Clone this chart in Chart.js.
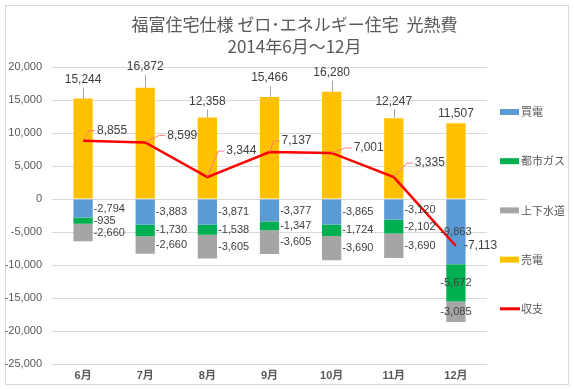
<!DOCTYPE html>
<html lang="ja">
<head>
<meta charset="utf-8">
<title>光熱費</title>
<script src="https://cdn.jsdelivr.net/npm/chart.js@4.4.1/dist/chart.umd.min.js"></script>
<style>
  html, body { margin: 0; padding: 0; background: #fff; }
</style>
</head>
<body>
<canvas id="energyChart" width="574" height="389"></canvas>
<script>
// data
const months = ['6月', '7月', '8月', '9月', '10月', '11月', '12月'];
const buyPower = [-2794, -3883, -3871, -3377, -3865, -3120, -9863];
const cityGas = [-935, -1730, -1538, -1347, -1724, -2102, -5672];
const water = [-2660, -2660, -3605, -3605, -3690, -3690, -3085];
const sellPower = [15244, 16872, 12358, 15466, 16280, 12247, 11507];
const balance = [8855, 8599, 3344, 7137, 7001, 3335, -7113];
const yMin = -25000, yMax = 20000, yStep = 5000;

const numFont = "'Liberation Sans', 'Noto Sans CJK JP', sans-serif";
const jpFont = "'Noto Sans CJK JP', 'Noto Sans', sans-serif";
const fmt = v => v.toLocaleString('en-US');

// white background + thin outer frame
const frame = {
  id: 'frame',
  beforeDraw(chart) {
    const ctx = chart.ctx;
    ctx.save();
    ctx.fillStyle = '#fff';
    ctx.fillRect(0, 0, chart.width, chart.height);
    ctx.strokeStyle = '#d9d9d9';
    ctx.lineWidth = 1;
    ctx.strokeRect(5.5, 5.5, 563, 379);
    ctx.restore();
  }
};

// value labels for bars and line
const valueLabels = {
  id: 'valueLabels',
  afterDatasetsDraw(chart, args, opts) {
    const ctx = chart.ctx;
    ctx.save();
    ctx.textBaseline = 'middle';
    ctx.fillStyle = '#404040';

    // cost segments (negative side)
    ctx.font = '11px ' + numFont;
    for (let d = 0; d < 3; d++) {
      chart.getDatasetMeta(d).data.forEach((bar, i) => {
        const p = bar.getProps(['x', 'y', 'base', 'width'], true);
        const text = fmt(chart.data.datasets[d].data[i]);
        const cy = (p.y + p.base) / 2;
        if (opts.centerCost[i]) {
          ctx.textAlign = 'center';
          ctx.fillText(text, p.x, cy);
        } else {
          ctx.textAlign = 'left';
          ctx.fillText(text, p.x + p.width / 2 + 1, cy);
        }
      });
    }

    // 売電 above the bars, with a leader line
    ctx.font = '12px ' + numFont;
    ctx.textAlign = 'center';
    chart.getDatasetMeta(3).data.forEach((bar, i) => {
      const gap = opts.sellGap[i];
      const ly = bar.y - gap;
      if (gap > 12) {
        const lx = Math.round(bar.x) + 0.5;
        ctx.strokeStyle = '#a6a6a6';
        ctx.lineWidth = 1;
        ctx.beginPath();
        ctx.moveTo(lx, ly + 8);
        ctx.lineTo(lx, bar.y);
        ctx.stroke();
      }
      ctx.fillText(fmt(sellPower[i]), bar.x, ly);
    });

    // 収支 labels up and right of the points
    ctx.textAlign = 'left';
    chart.getDatasetMeta(4).data.forEach((pt, i) => {
      const [dx, dy] = opts.balanceOffset[i];
      const lx = pt.x + dx, ly = pt.y + dy;
      if (dy !== 0) {
        ctx.strokeStyle = '#ff7c80';
        ctx.lineWidth = 1;
        ctx.beginPath();
        ctx.moveTo(pt.x, pt.y);
        ctx.lineTo(lx - 8, ly);
        ctx.lineTo(lx - 2, ly);
        ctx.stroke();
      }
      ctx.fillText(fmt(balance[i]), lx, ly);
    });
    ctx.restore();
  }
};

// legend column on the right
const sideLegend = {
  id: 'sideLegend',
  afterDraw(chart, args, opts) {
    const ctx = chart.ctx;
    const x0 = chart.chartArea.right + opts.offsetX;
    ctx.save();
    ctx.font = '11px ' + jpFont;
    ctx.textBaseline = 'middle';
    ctx.textAlign = 'left';
    chart.data.datasets.forEach((ds, i) => {
      const y = opts.top + i * opts.spacing;
      if (ds.type === 'line') {
        ctx.strokeStyle = ds.borderColor;
        ctx.lineWidth = 3;
        ctx.beginPath();
        ctx.moveTo(x0, y);
        ctx.lineTo(x0 + 20, y);
        ctx.stroke();
      } else {
        ctx.fillStyle = ds.backgroundColor;
        ctx.fillRect(x0, y - 3, 19, 6);
      }
      ctx.fillStyle = '#595959';
      ctx.fillText(ds.label, x0 + 21, y);
    });
    ctx.restore();
  }
};

const barStyle = { type: 'bar', stack: 'cost', order: 1, borderWidth: 0, barPercentage: 0.31, categoryPercentage: 1 };

new Chart(document.getElementById('energyChart'), {
  data: {
    labels: months,
    datasets: [
      Object.assign({ label: '買電', data: buyPower, backgroundColor: '#5b9bd5' }, barStyle),
      Object.assign({ label: '都市ガス', data: cityGas, backgroundColor: '#00b050' }, barStyle),
      Object.assign({ label: '上下水道', data: water, backgroundColor: '#a5a5a5' }, barStyle),
      Object.assign({ label: '売電', data: sellPower, backgroundColor: '#ffc000' }, barStyle),
      {
        type: 'line', label: '収支', data: balance, stack: 'balance', order: 0,
        borderColor: '#ff0000', backgroundColor: '#ff0000', borderWidth: 2.5,
        pointRadius: 0, tension: 0
      }
    ]
  },
  options: {
    responsive: false,
    animation: false,
    // right padding is negative on purpose: the title box then centres a bit right, like the original
    layout: { padding: { left: 5, right: -10, top: 0, bottom: 7 } },
    scales: {
      x: {
        stacked: true,
        grid: { display: false, drawTicks: false },
        border: { display: false },
        ticks: { color: '#595959', padding: 5, font: { family: numFont, size: 11, weight: 'bold' } },
        afterFit(s) { s.height = 18; }
      },
      y: {
        stacked: true,
        min: yMin, max: yMax,
        border: { display: false },
        grid: { color: '#d9d9d9', drawTicks: false },
        ticks: { stepSize: yStep, color: '#595959', padding: 10, font: { family: numFont, size: 11 },
          callback: v => fmt(v) },
        afterFit(s) { s.width = 47; }
      },
      // keeps room for the legend column
      legendSpace: {
        type: 'linear', position: 'right', display: true,
        grid: { display: false }, border: { display: false }, ticks: { display: false },
        afterFit(s) { s.width = 97; }
      }
    },
    plugins: {
      legend: { display: false },
      tooltip: { enabled: false },
      title: {
        display: true,
        text: ['福富住宅仕様 ゼロ･エネルギー住宅  光熱費', '2014年6月～12月'],
        color: '#595959',
        font: { family: jpFont, size: 17, weight: 'normal', lineHeight: 1.3 },
        padding: { top: 13, bottom: 10 }
      },
      valueLabels: {
        centerCost: [false, false, false, false, false, false, true],
        sellGap: [19, 21, 16, 19, 19, 17, 10],
        balanceOffset: [[14, -10], [22, -7], [19, -26], [12, -11], [22, -5], [21, -14], [8, 0]]
      },
      sideLegend: { offsetX: 13, top: 112, spacing: 49.2 }
    }
  },
  plugins: [frame, valueLabels, sideLegend]
});
</script>
</body>
</html>
